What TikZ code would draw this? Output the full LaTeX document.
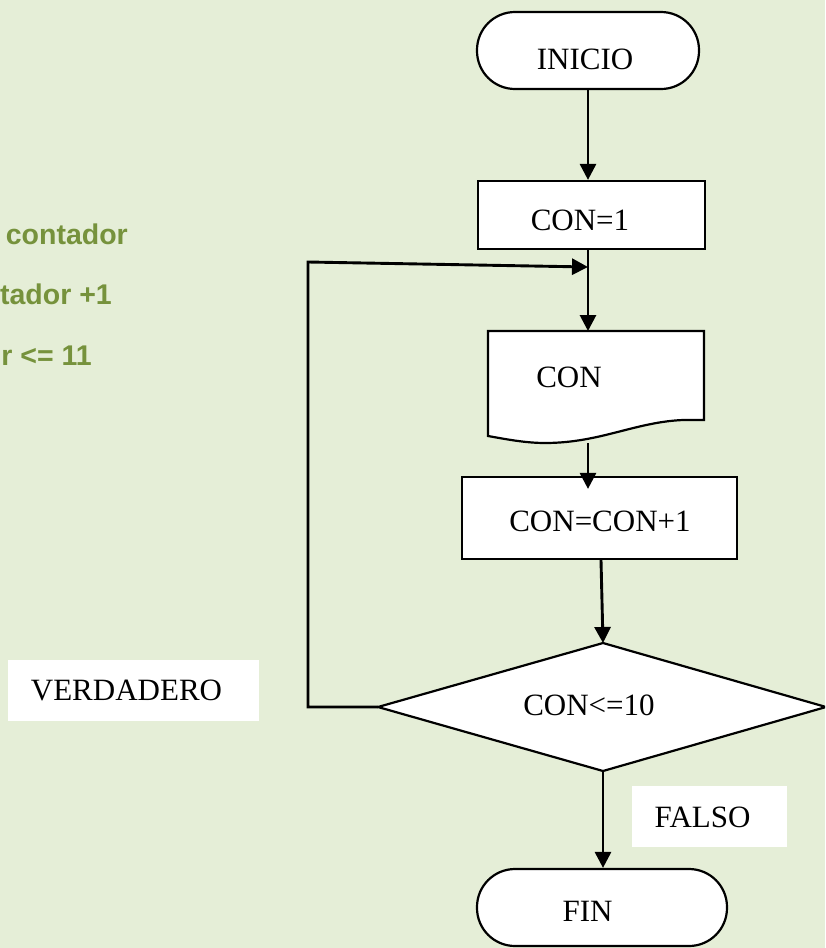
\documentclass[tikz,border=0pt]{standalone}
\usepackage{fontspec}
\setmainfont{Liberation Serif}
\newfontfamily\greenfont{Liberation Sans}
\usetikzlibrary{arrows.meta}
\definecolor{bgcol}{RGB}{229,238,215}
\definecolor{olive}{RGB}{118,146,60}
\tikzset{
  shapeline/.style={draw=black, line width=2.2pt, fill=white},
  term/.style={shapeline, rectangle, rounded corners=38pt, inner sep=0pt},
  procbox/.style={shapeline, rectangle, inner sep=0pt},
  lbl/.style={anchor=base, inner sep=0pt, font=\fontsize{31}{36}\selectfont},
  greentxt/.style={anchor=base east, inner sep=0pt, text=olive, font=\greenfont\bfseries\fontsize{28.5}{33}\selectfont},
  whitebox/.style={fill=white, draw=none, rectangle, inner sep=0pt},
  conn/.style={draw=black, line width=2.9pt, -{Triangle[length=16pt,width=16pt]}},
}
\begin{document}
\begin{tikzpicture}[x=1pt, y=-1pt]
\useasboundingbox (0,0) rectangle (825,948);
\clip (0,0) rectangle (825,948);
\fill[bgcol] (0,0) rectangle (825,948);

% green side text (partially cut in the reference)
\node[greentxt] (g1) at (128,244) {contador};
\node[greentxt] (g2) at (112,304) {tador +1};
\node[greentxt] (g3) at (92,365) {r <= 11};

% white label boxes
\node[whitebox, minimum width=251pt, minimum height=61pt] (vbox) at (133.5,690.5) {};
\node[lbl] (vtxt) at (126.5,700) {VERDADERO};
\node[whitebox, minimum width=155pt, minimum height=61pt] (fbox) at (709.5,816.5) {};
\node[lbl] (ftxt) at (702.5,827) {FALSO};

% shapes
\node[term, minimum width=222pt, minimum height=77pt] (inicio) at (588,50.5) {};
\node[lbl] (tinicio) at (585,69) {INICIO};

\node[procbox, minimum width=227pt, minimum height=68pt] (con1) at (591.5,215) {};
\node[lbl] (tcon1) at (580,230) {CON=1};

\coordinate (doctop) at (588,331);
\coordinate (docbot) at (588,443);
\draw[shapeline] (488,331) -- (704,331) -- (704,420) -- (683,420)
  .. controls (635,422) and (600,443) .. (545,443)
  .. controls (525,443) and (505,439) .. (488,436) -- cycle;
\node[lbl] (tcon) at (569,387) {CON};

\node[procbox, minimum width=275pt, minimum height=82pt] (inc) at (599.5,518) {};
\node[lbl] (tinc) at (600,531) {CON=CON+1};

\coordinate (dtop) at (603,643);
\coordinate (dleft) at (378,707);
\coordinate (dright) at (826,707);
\coordinate (dbot) at (603,771);
\draw[shapeline] (dtop) -- (dright) -- (dbot) -- (dleft) -- cycle;
\node[lbl] (tdec) at (589,715) {CON<=10};

\node[term, minimum width=250pt, minimum height=77pt] (fin) at (602,907.5) {};
\node[lbl] (tfin) at (587.5,921) {FIN};

% connectors
\draw[conn] (inicio.south -| doctop) -- (con1.north -| doctop);
\draw[conn] (con1.south -| doctop) -- (doctop);
\draw[conn, shorten >=-13pt] (docbot) -- (docbot |- inc.north);
\draw[conn] ([xshift=1.5pt]inc.south) -- (dtop);
\draw[conn] (dbot) -- (dbot |- fin.north);

\coordinate (lc) at (308,262);
\coordinate (loopend) at (588,267);
\draw[conn] (dleft) -- (dleft -| lc) -- (lc) -- (loopend);
\end{tikzpicture}
\end{document}
